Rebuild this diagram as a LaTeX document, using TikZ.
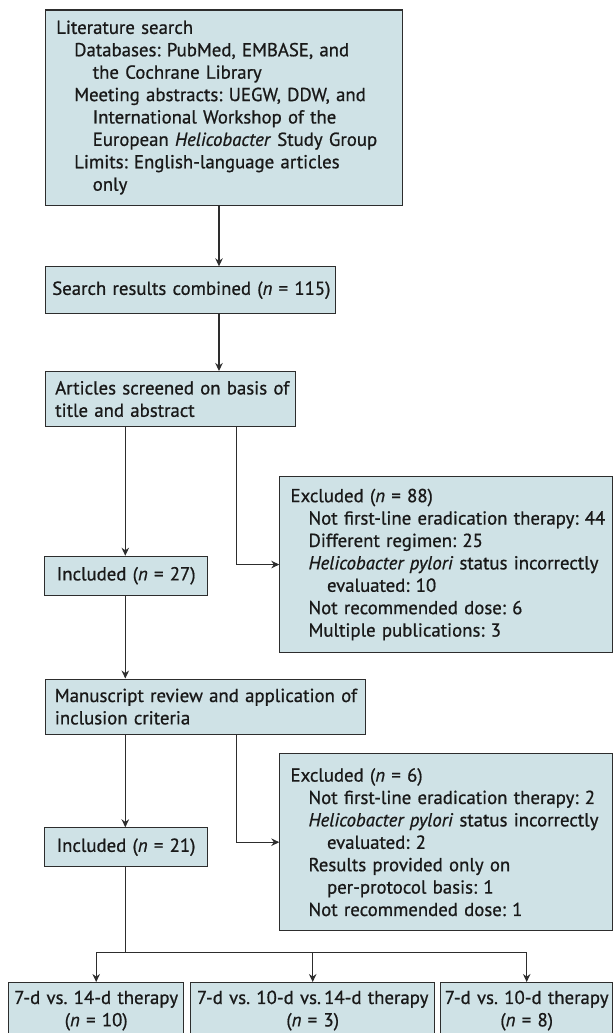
\documentclass[tikz,border=0pt]{standalone}
\usepackage{fontspec}
\setmainfont{PT Sans}[FakeBold=0.8]
\usetikzlibrary{arrows.meta,calc}
\definecolor{boxfill}{RGB}{207,226,230}
\definecolor{edge}{RGB}{45,45,45}
\newcommand{\ia}{\hspace*{18pt}}
\newcommand{\ib}{\hspace*{36.5pt}}
\newcommand{\lin}[1]{\mbox{#1}}
\frenchspacing
\begin{document}
\begin{tikzpicture}[x=1pt,y=-1pt,
  every node/.style={font=\fontsize{18.8}{22.4}\selectfont\frenchspacing, text=black!90},
  box/.style={draw=edge, line width=1.1pt, fill=boxfill, anchor=north west, inner ysep=0pt, inner xsep=0pt},
  arr/.style={draw=edge, line width=1.1pt, -{Stealth[length=8pt,width=7.5pt]}},
  conn/.style={draw=edge, line width=1.1pt}]
\useasboundingbox (0,0) rectangle (613,1033);
% boxes
\node[box, minimum width=357pt, minimum height=195pt, text width=335.6pt, align=left] (b1) at (45,9.5) {%
\lin{Literature search}\\
\lin{\ia Databases: PubMed, EMBASE, and}\\
\lin{\ib the Cochrane Library}\\
\lin{\ia Meeting abstracts: UEGW, DDW, and}\\
\lin{\ib International Workshop of the}\\
\lin{\ib European \textit{Helicobacter} Study Group}\\
\lin{\ia Limits: English-language articles}\\
\lin{\ib only}};
\node[box, minimum width=290pt, minimum height=46.7pt, text width=276pt, align=center] (b2) at (44.7,266.3) {\lin{Search results combined (\textit{n} = 115)}};
\node[box, minimum width=250pt, minimum height=55pt, text width=230pt, align=left] (b3) at (44.7,371) {\lin{Articles screened on basis of}\\\lin{title and abstract}};
\node[box, minimum width=163.3pt, minimum height=39pt, text width=150pt, align=center] (i27) at (44,555.7) {\lin{Included (\textit{n} = 27)}};
\node[box, minimum width=333pt, minimum height=176.6pt, text width=311.6pt, align=left] (e88) at (279.3,475.7) {%
\lin{Excluded (\textit{n} = 88)}\\
\lin{\ia Not first-line eradication therapy: 44}\\
\lin{\ia Different regimen: 25}\\
\lin{\ia \textit{Helicobacter pylori} status incorrectly}\\
\lin{\ib evaluated: 10}\\
\lin{\ia Not recommended dose: 6}\\
\lin{\ia Multiple publications: 3}};
\node[box, minimum width=320.6pt, minimum height=55.2pt, text width=301.4pt, align=left] (man) at (44.7,678.5) {\lin{Manuscript review and application of}\\\lin{inclusion criteria}};
\node[box, minimum width=163pt, minimum height=38.7pt, text width=150pt, align=center] (i21) at (44,827.3) {\lin{Included (\textit{n} = 21)}};
\node[box, minimum width=333pt, minimum height=176.7pt, text width=311.6pt, align=left] (e6) at (279.3,753.3) {%
\lin{Excluded (\textit{n} = 6)}\\
\lin{\ia Not first-line eradication therapy: 2}\\
\lin{\ia \textit{Helicobacter pylori} status incorrectly}\\
\lin{\ib evaluated: 2}\\
\lin{\ia Results provided only on}\\
\lin{\ib per-protocol basis: 1}\\
\lin{\ia Not recommended dose: 1}};
\node[box, minimum width=175.3pt, minimum height=56pt, text width=170pt, align=center] (t1) at (8,982) {\lin{7-d vs. 14-d therapy}\\(\textit{n} = 10)};
\node[box, minimum width=244.3pt, minimum height=56pt, text width=240pt, align=center] (t2) at (190,982) {\lin{7-d vs. 10-d vs.\,14-d therapy}\\(\textit{n} = 3)};
\node[box, minimum width=172.3pt, minimum height=56pt, text width=170pt, align=center] (t3) at (440,982) {\lin{7-d vs. 10-d therapy}\\(\textit{n} = 8)};
% connectors
\coordinate (xa) at (219,0);
\coordinate (xl) at (125.3,0);
\coordinate (xr) at (236.7,0);
\coordinate (br) at (125.3,952.7);
\draw[arr] (xa |- b1.south) -- (xa |- b2.north);
\draw[arr] (xa |- b2.south) -- (xa |- b3.north);
\draw[arr] (xl |- b3.south) -- (xl |- i27.north);
\draw[arr] (xr |- b3.south) |- (e88.west);
\draw[arr] (xl |- i27.south) -- (xl |- man.north);
\draw[arr] (xl |- man.south) -- (xl |- i21.north);
\draw[arr] (xr |- man.south) |- (e6.west);
\draw[conn] (xl |- i21.south) -- (br);
\draw[arr] (br) -| (t1.north);
\draw[arr] (br) -| (t2.north);
\draw[arr] (br) -| (t3.north);
\end{tikzpicture}
\end{document}
